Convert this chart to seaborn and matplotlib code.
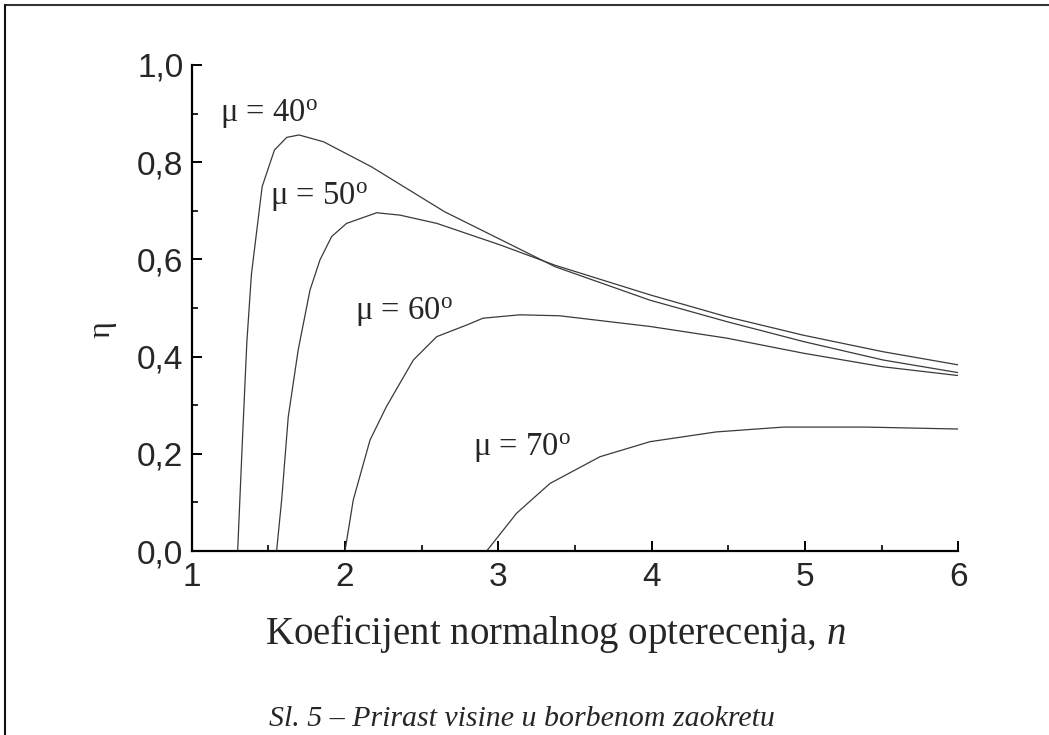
import numpy as np
import pandas as pd
import matplotlib
matplotlib.use("Agg")
import matplotlib.pyplot as plt
from matplotlib.lines import Line2D
from matplotlib.ticker import FixedLocator
import seaborn as sns

# ---- data ----
n_40 = [1.30, 1.33, 1.36, 1.39, 1.46, 1.54, 1.62, 1.70, 1.86, 2.17, 2.65, 3.02, 3.37, 3.99, 4.49, 4.99, 5.51, 6.00]
eta_40 = [0.000, 0.220, 0.430, 0.570, 0.750, 0.825, 0.851, 0.856, 0.842, 0.791, 0.698, 0.640, 0.585, 0.516, 0.472, 0.431, 0.393, 0.367]

n_50 = [1.554, 1.587, 1.63, 1.695, 1.772, 1.837, 1.913, 2.01, 2.207, 2.36, 2.60, 3.01, 3.37, 3.99, 4.49, 4.99, 5.51, 6.00]
eta_50 = [0.000, 0.105, 0.276, 0.414, 0.537, 0.599, 0.647, 0.674, 0.696, 0.691, 0.674, 0.630, 0.588, 0.527, 0.482, 0.444, 0.410, 0.383]

n_60 = [2.00, 2.054, 2.163, 2.27, 2.446, 2.598, 2.794, 2.90, 3.14, 3.40, 3.99, 4.49, 4.99, 5.51, 6.00]
eta_60 = [0.000, 0.105, 0.228, 0.297, 0.393, 0.441, 0.465, 0.479, 0.486, 0.484, 0.462, 0.438, 0.407, 0.379, 0.361]

n_70 = [2.924, 3.12, 3.337, 3.663, 3.99, 4.42, 4.86, 5.40, 6.00]
eta_70 = [0.000, 0.078, 0.139, 0.194, 0.225, 0.245, 0.255, 0.255, 0.251]

curve_labels = ["40", "50", "60", "70"]
label_pos_x = [1.184, 1.51, 2.065, 2.833]
label_pos_y = [0.883, 0.712, 0.475, 0.195]

x_ticks = [1, 2, 3, 4, 5, 6]
x_tick_labels = ["1", "2", "3", "4", "5", "6"]
x_minor = [1.5, 2.5, 3.5, 4.5, 5.5]
y_ticks = [0.0, 0.2, 0.4, 0.6, 0.8, 1.0]
y_tick_labels = ["0,0", "0,2", "0,4", "0,6", "0,8", "1,0"]
y_minor = [0.1, 0.3, 0.5, 0.7, 0.9]

x_label = "Koeficijent normalnog opterecenja, "
y_label = "η"
caption = "Sl. 5 – Prirast visine u borbenom zaokretu"

# ---- build table ----
frames = []
for lab, xs, ys in zip(curve_labels, [n_40, n_50, n_60, n_70], [eta_40, eta_50, eta_60, eta_70]):
    frames.append(pd.DataFrame({"n": xs, "eta": ys, "mu": "mu" + lab}))
df = pd.concat(frames, ignore_index=True)

sns.set_style("ticks")
plt.rcParams["font.family"] = "Liberation Sans"
plt.rcParams["mathtext.fontset"] = "custom"
plt.rcParams["mathtext.rm"] = "Liberation Serif"
plt.rcParams["mathtext.it"] = "Liberation Serif:italic"

fig = plt.figure(figsize=(10.49, 7.35), dpi=100)
ax = fig.add_axes([0.1827, 0.2503, 0.9135 - 0.1827, 0.9116 - 0.2503])

sns.lineplot(data=df, x="n", y="eta", units="mu", estimator=None, sort=False,
             color="#3a3a3a", linewidth=0.9, ax=ax, legend=False)

ax.set_xlim(1, 6)
ax.set_ylim(0, 1.0)
for s in ["top", "right"]:
    ax.spines[s].set_visible(False)
for s in ["left", "bottom"]:
    ax.spines[s].set_linewidth(1.6)
    ax.spines[s].set_color("black")

ax.xaxis.set_major_locator(FixedLocator(x_ticks))
ax.yaxis.set_major_locator(FixedLocator(y_ticks))
ax.xaxis.set_minor_locator(FixedLocator(x_minor))
ax.yaxis.set_minor_locator(FixedLocator(y_minor))
ax.set_xticklabels(x_tick_labels, fontfamily="Liberation Sans", fontsize=24)
ax.set_yticklabels(y_tick_labels, fontfamily="Liberation Sans", fontsize=24)
ax.tick_params(which="both", bottom=True, left=True, top=False, right=False)
ax.tick_params(which="major", direction="in", length=7, width=1.4, color="black")
ax.tick_params(which="minor", direction="in", length=4, width=1.2, color="black")
ax.tick_params(axis="x", which="major", pad=8)
ax.tick_params(axis="y", which="major", pad=6)

ax.set_xlabel("")
ax.set_ylabel("")

serif = "Liberation Serif"
for lab, lx, ly in zip(curve_labels, label_pos_x, label_pos_y):
    ax.text(lx, ly, "μ = " + lab + r"$^{\mathrm{o}}$", fontsize=23.5, family=serif,
            ha="left", va="baseline")

fig.text(0.097, 0.551, y_label, rotation=90, fontsize=23, family=serif, ha="center", va="center")
fig.text(0.53, 0.124, x_label + r"$\mathit{n}$", fontsize=28, family=serif, ha="center", va="baseline")
fig.text(0.498, 0.012, caption, fontsize=21.5, family=serif, style="italic", ha="center", va="baseline")

# partial page border (top and left)
fig.add_artist(Line2D([0.0043, 1.0], [0.9932, 0.9932], transform=fig.transFigure, color="#333333", linewidth=1.5))
fig.add_artist(Line2D([0.0043, 0.0043], [0.0, 0.9932], transform=fig.transFigure, color="#111111", linewidth=1.5))

fig.savefig("out.png", dpi=100, facecolor="white")
